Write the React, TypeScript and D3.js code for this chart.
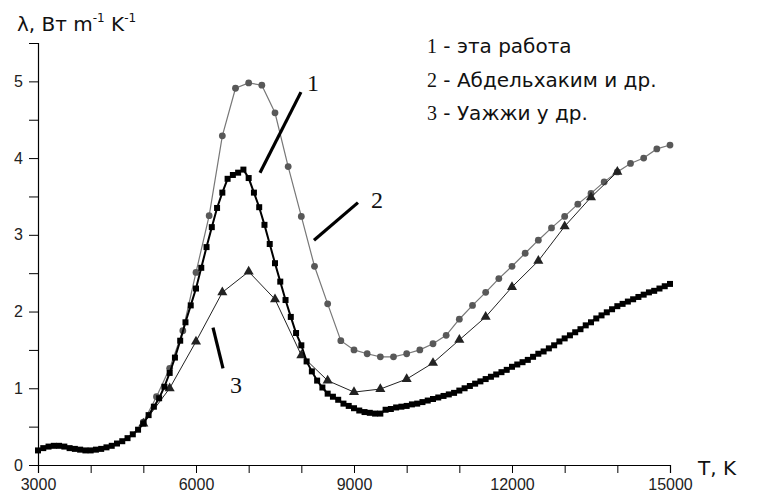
import React, { useEffect, useRef } from 'react';
import * as d3 from 'd3';

// curve 1 - this work (dense squares, step 100 K)
const t1 = d3.range(3000, 15001, 100);
const lambda1 = [
  0.19, 0.22, 0.24, 0.25, 0.25, 0.24, 0.22, 0.21, 0.20, 0.19,
  0.19, 0.20, 0.21, 0.23, 0.25, 0.28, 0.31, 0.35, 0.40, 0.46,
  0.54, 0.65, 0.76, 0.87, 1.02, 1.20, 1.40, 1.62, 1.86, 2.08,
  2.30, 2.57, 2.84, 3.10, 3.35, 3.55, 3.73, 3.78, 3.81, 3.85,
  3.74, 3.55, 3.36, 3.13, 2.88, 2.63, 2.39, 2.15, 1.93, 1.72,
  1.56, 1.35, 1.22, 1.10, 1.01, 0.93, 0.89, 0.85, 0.80, 0.77,
  0.74, 0.71, 0.69, 0.68, 0.67, 0.67, 0.72, 0.73, 0.75, 0.76,
  0.77, 0.79, 0.80, 0.82, 0.84, 0.86, 0.88, 0.90, 0.92, 0.94,
  0.97, 1.00, 1.03, 1.06, 1.09, 1.12, 1.15, 1.18, 1.21, 1.24,
  1.28, 1.31, 1.34, 1.37, 1.41, 1.45, 1.48, 1.52, 1.56, 1.61,
  1.65, 1.69, 1.73, 1.77, 1.82, 1.86, 1.91, 1.95, 1.99, 2.03,
  2.07, 2.10, 2.13, 2.16, 2.19, 2.22, 2.25, 2.27, 2.30, 2.33,
  2.36,
];

// curve 2 - Abdelhakim et al. (circles, step 250 K)
const t2 = d3.range(5000, 15001, 250);
const lambda2 = [
  0.56, 0.89, 1.26, 1.75, 2.51, 3.25, 4.29, 4.91, 4.98, 4.95,
  4.59, 3.89, 3.24, 2.59, 2.10, 1.62, 1.50, 1.45, 1.41, 1.41,
  1.45, 1.50, 1.58, 1.69, 1.90, 2.08, 2.25, 2.43, 2.59, 2.76,
  2.93, 3.09, 3.24, 3.40, 3.54, 3.69, 3.82, 3.93, 4.00, 4.12,
  4.17,
];

// curve 3 - Wazzi et al. (triangles, step 500 K)
const t3 = d3.range(5000, 14001, 500);
const lambda3 = [
  0.54, 1.00, 1.61, 2.25, 2.52, 2.16, 1.43, 1.10, 0.95, 0.99,
  1.12, 1.33, 1.63, 1.93, 2.32, 2.66, 3.11, 3.49, 3.82,
];

const xTicks = [3000, 6000, 9000, 12000, 15000];
const yTicks = [0, 1, 2, 3, 4, 5];

const legendNums = ['1', '2', '3'];
const legendTexts = [' - эта работа', ' - Абдельхаким и др.', ' - Уажжи у др.'];

// leader lines for curve numbers, in data units: [t0, l0, t1, l1, labelT, labelL]
const leaders = [
  [7215, 3.81, 7993, 4.86, 8221, 4.98],
  [8240, 2.93, 9075, 3.42, 9436, 3.46],
  [6323, 1.79, 6513, 1.26, 6760, 1.04],
];

const sans = 'Liberation Sans, Arial, sans-serif';
const wide = 'DejaVu Sans, Verdana, sans-serif';
const serif = 'Liberation Serif, Times New Roman, serif';

const App = () => {
  const svgRef = useRef<SVGSVGElement | null>(null);

  useEffect(() => {
    document.body.style.margin = '0';
    const width = 758;
    const height = 496;
    const margin = { left: 38, right: 88, top: 43, bottom: 31 };

    const svg = d3.select(svgRef.current);
    svg.selectAll('*').remove();

    const x = d3.scaleLinear().domain([3000, 15000]).range([margin.left, width - margin.right]);
    const y = d3.scaleLinear().domain([0, 5.5]).range([height - margin.bottom, margin.top]);

    // axes
    const xAxis = svg.append('g')
      .attr('transform', `translate(0,${y(0)})`)
      .call(d3.axisBottom(x).tickValues(d3.range(3000, 15001, 1000)).tickSizeOuter(0).tickSize(8).tickPadding(3)
        .tickFormat((d) => (xTicks.includes(+d) ? String(d) : '')));
    const yAxis = svg.append('g')
      .attr('transform', `translate(${x(3000)},0)`)
      .call(d3.axisLeft(y).tickValues(d3.range(0, 5.51, 0.5)).tickSizeOuter(0).tickSize(9).tickPadding(6)
        .tickFormat((d) => (yTicks.includes(+d) ? String(d) : '')));

    [xAxis, yAxis].forEach((g) => {
      g.select('.domain').attr('stroke', '#000').attr('stroke-width', 1.2);
      g.selectAll('.tick line').attr('stroke', '#000').attr('stroke-width', 1);
      g.selectAll('.tick text').attr('font-family', sans).attr('font-size', 16).attr('fill', '#222');
    });
    xAxis.selectAll('.tick text').attr('dy', '0.9em');

    // axis titles
    const yTitle = svg.append('text')
      .attr('x', 17).attr('y', 31)
      .attr('font-family', wide).attr('font-size', 20).attr('fill', '#111');
    yTitle.append('tspan').text('λ, Вт m');
    yTitle.append('tspan').attr('font-size', 12).attr('dy', -9).text('-1');
    yTitle.append('tspan').attr('dy', 9).text(' K');
    yTitle.append('tspan').attr('font-size', 12).attr('dy', -9).text('-1');

    svg.append('text')
      .attr('x', x(15000) + 28).attr('y', y(0) + 10)
      .attr('font-family', wide).attr('font-size', 20).attr('fill', '#111')
      .text('T, K');

    // curve 2 (gray circles)
    const pts2 = t2.map((t, i) => [t, lambda2[i]]);
    const line = d3.line<number[]>().x((d) => x(d[0])).y((d) => y(d[1]));
    svg.append('path').attr('d', line(pts2)).attr('fill', 'none').attr('stroke', '#777').attr('stroke-width', 1.2);
    svg.append('g').selectAll('circle').data(pts2).enter().append('circle')
      .attr('cx', (d) => x(d[0])).attr('cy', (d) => y(d[1])).attr('r', 3.4).attr('fill', '#585858');

    // curve 3 (triangles)
    const pts3 = t3.map((t, i) => [t, lambda3[i]]);
    svg.append('path').attr('d', line(pts3)).attr('fill', 'none').attr('stroke', '#222').attr('stroke-width', 1);
    svg.append('g').selectAll('path').data(pts3).enter().append('path')
      .attr('d', d3.symbol(d3.symbolTriangle, 44))
      .attr('transform', (d) => `translate(${x(d[0])},${y(d[1])})`)
      .attr('fill', '#222');

    // curve 1 (black squares)
    const pts1 = t1.map((t, i) => [t, lambda1[i]]);
    svg.append('path').attr('d', line(pts1)).attr('fill', 'none').attr('stroke', '#000').attr('stroke-width', 2);
    svg.append('g').selectAll('path').data(pts1).enter().append('path')
      .attr('d', d3.symbol(d3.symbolSquare, 36))
      .attr('transform', (d) => `translate(${x(d[0])},${y(d[1])})`)
      .attr('fill', '#000');

    // curve labels with leader lines
    leaders.forEach((l, i) => {
      svg.append('line')
        .attr('x1', x(l[0])).attr('y1', y(l[1])).attr('x2', x(l[2])).attr('y2', y(l[3]))
        .attr('stroke', '#000').attr('stroke-width', 3.2);
      svg.append('text')
        .attr('x', x(l[4])).attr('y', y(l[5]))
        .attr('text-anchor', 'middle').attr('dominant-baseline', 'central')
        .attr('font-family', serif).attr('font-size', 24).attr('fill', '#111')
        .text(legendNums[i]);
    });

    // legend text
    legendNums.forEach((n, i) => {
      const t = svg.append('text')
        .attr('x', 427).attr('y', 53 + i * 33.5)
        .attr('font-size', 20).attr('fill', '#111');
      t.append('tspan').attr('font-family', serif).attr('font-size', 20).text(n);
      t.append('tspan').attr('font-family', wide).attr('xml:space', 'preserve').text(legendTexts[i]);
    });
  }, []);

  return <svg ref={svgRef} width={758} height={496} style={{ display: 'block' }}></svg>;
};

export default App;
